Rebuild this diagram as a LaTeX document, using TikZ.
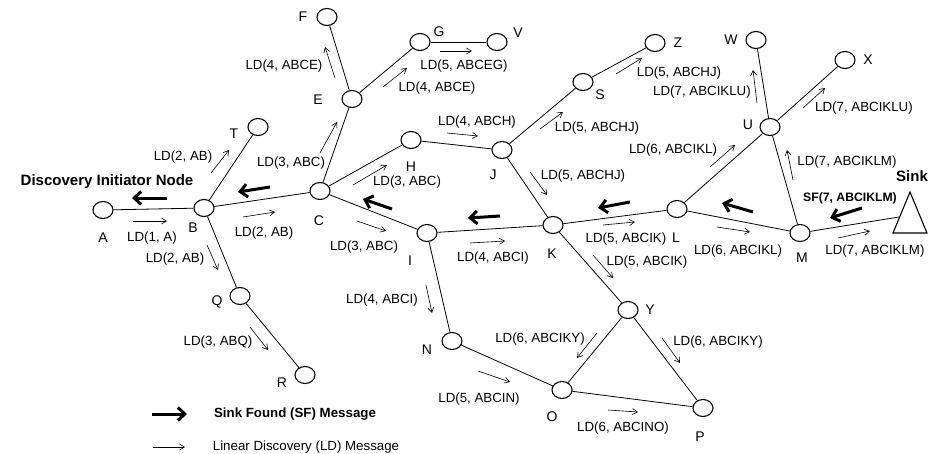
\documentclass[tikz,border=0pt]{standalone}
\usepackage{fontspec}
\setmainfont{Liberation Sans}
\usetikzlibrary{shapes.geometric,arrows.meta}
\tikzset{
  nd/.style={ellipse, draw, line width=1.1pt, minimum width=20pt, minimum height=17pt, inner sep=0pt},
  ed/.style={line width=0.8pt},
  ld/.style={-{Straight Barb[length=5pt,width=6pt]}, line width=0.6pt},
  sf/.style={-{Straight Barb[length=7pt,width=13pt]}, line width=3pt},
  lab/.style={font=\fontsize{13.3}{15}\selectfont, inner sep=0pt},
  lett/.style={font=\fontsize{14}{16}\selectfont, inner sep=0pt},
  bl/.style={font=\fontsize{15}{17}\selectfont\bfseries, inner sep=0pt},
  bls/.style={font=\fontsize{13.3}{15}\selectfont\bfseries, inner sep=0pt},
}
\begin{document}
\begin{tikzpicture}[x=1pt,y=-1pt]
\useasboundingbox (0,0) rectangle (938,453);
% nodes
\node[nd] (A) at (103,210) {};
\node[nd] (B) at (204,208) {};
\node[nd] (C) at (320,191) {};
\node[nd] (T) at (258,127) {};
\node[nd] (E) at (352,99) {};
\node[nd] (F) at (327,17) {};
\node[nd] (G) at (420,42) {};
\node[nd] (V) at (497,42) {};
\node[nd] (H) at (411,140) {};
\node[nd] (J) at (502,150) {};
\node[nd] (S) at (583,82) {};
\node[nd] (Z) at (655,43) {};
\node[nd] (W) at (756,40) {};
\node[nd] (X) at (845,60) {};
\node[nd] (U) at (770,127) {};
\node[nd] (I) at (427,233) {};
\node[nd] (K) at (553,225) {};
\node[nd] (L) at (677,209) {};
\node[nd] (M) at (800,233) {};
\node[nd] (Y) at (628,310) {};
\node[nd] (N) at (452,341) {};
\node[nd] (O) at (562,390) {};
\node[nd] (P) at (703,408) {};
\node[nd] (Q) at (240,296) {};
\node[nd] (R) at (305,375) {};
% sink
\draw[line width=1.1pt] (893,233) -- (910,192) -- (927,233) -- cycle;
\coordinate (sinkL) at (899,217);
% edges
\draw[ed] (A) -- (B);
\draw[ed] (B) -- (T);
\draw[ed] (B) -- (C);
\draw[ed] (B) -- (Q);
\draw[ed] (Q) -- (R);
\draw[ed] (C) -- (E);
\draw[ed] (C) -- (H);
\draw[ed] (C) -- (I);
\draw[ed] (E) -- (F);
\draw[ed] (E) -- (G);
\draw[ed] (G) -- (V);
\draw[ed] (H) -- (J);
\draw[ed] (J) -- (S);
\draw[ed] (S) -- (Z);
\draw[ed] (J) -- (K);
\draw[ed] (I) -- (K);
\draw[ed] (I) -- (N);
\draw[ed] (K) -- (L);
\draw[ed] (K) -- (Y);
\draw[ed] (L) -- (U);
\draw[ed] (L) -- (M);
\draw[ed] (U) -- (W);
\draw[ed] (U) -- (X);
\draw[ed] (U) -- (M);
\draw[ed] (M) -- (sinkL);
\draw[ed] (N) -- (O);
\draw[ed] (O) -- (Y);
\draw[ed] (O) -- (P);
\draw[ed] (Y) -- (P);
% node letters
\node[lett] (tA) at (103,238) {A};
\node[lett] (tB) at (193,228) {B};
\node[lett] (tC) at (319,221) {C};
\node[lett] (tT) at (234,134) {T};
\node[lett] (tE) at (318,100) {E};
\node[lett] (tF) at (303,17) {F};
\node[lett] (tG) at (439,32) {G};
\node[lett] (tV) at (518,33) {V};
\node[lett] (tH) at (411,167) {H};
\node[lett] (tJ) at (493,175) {J};
\node[lett] (tS) at (600,95) {S};
\node[lett] (tZ) at (678,43) {Z};
\node[lett] (tW) at (731,40) {W};
\node[lett] (tX) at (868,60) {X};
\node[lett] (tU) at (748,125) {U};
\node[lett] (tI) at (410,261) {I};
\node[lett] (tK) at (552,254) {K};
\node[lett] (tL) at (676,238) {L};
\node[lett] (tM) at (802,258) {M};
\node[lett] (tY) at (650,310) {Y};
\node[lett] (tN) at (427,350) {N};
\node[lett] (tO) at (552,417) {O};
\node[lett] (tP) at (700,437) {P};
\node[lett] (tQ) at (217,302) {Q};
\node[lett] (tR) at (282,383) {R};
\node[bl] (tSink) at (912,176) {Sink};
\node[bl] (tInit) at (107,182) {Discovery Initiator Node};
% LD labels
\node[lab] (l1) at (152,238) {LD(1, A)};
\node[lab] (l2) at (264,233) {LD(2, AB)};
\node[lab] (l3) at (183,157) {LD(2, AB)};
\node[lab] (l4) at (175,259) {LD(2, AB)};
\node[lab] (l5) at (218,342) {LD(3, ABQ)};
\node[lab] (l6) at (291,163) {LD(3, ABC)};
\node[lab] (l7) at (407,182) {LD(3, ABC)};
\node[lab] (l8) at (364,247) {LD(3, ABC)};
\node[lab] (l9) at (284,66) {LD(4, ABCE)};
\node[lab] (l10) at (437,88) {LD(4, ABCE)};
\node[lab] (l11) at (464,66) {LD(5, ABCEG)};
\node[lab] (l12) at (477,122) {LD(4, ABCH)};
\node[lab] (l13) at (597,128) {LD(5, ABCHJ)};
\node[lab] (l14) at (679,73) {LD(5, ABCHJ)};
\node[lab] (l15) at (583,176) {LD(5, ABCHJ)};
\node[lab] (l16) at (493,258) {LD(4, ABCI)};
\node[lab] (l17) at (382,300) {LD(4, ABCI)};
\node[lab] (l18) at (626,239) {LD(5, ABCIK)};
\node[lab] (l19) at (647,262) {LD(5, ABCIK)};
\node[lab] (l20) at (673,150) {LD(6, ABCIKL)};
\node[lab] (l21) at (738,251) {LD(6, ABCIKL)};
\node[lab] (l22) at (702,92) {LD(7, ABCIKLU)};
\node[lab] (l23) at (864,108) {LD(7, ABCIKLU)};
\node[lab] (l24) at (847,162) {LD(7, ABCIKLM)};
\node[lab] (l25) at (875,251) {LD(7, ABCIKLM)};
\node[bls, font=\fontsize{12.2}{14}\selectfont\bfseries] (l26) at (850,198) {SF(7, ABCIKLM)};
\node[lab] (l27) at (479,399) {LD(5, ABCIN)};
\node[lab] (l28) at (623,428) {LD(6, ABCINO)};
\node[lab] (l29) at (540,339) {LD(6, ABCIKY)};
\node[lab] (l30) at (718,342) {LD(6, ABCIKY)};
% LD arrows
\draw[ld] (133,221) -- (167,221);
\draw[ld] (243,217) -- (275,212);
\draw[ld] (211,173) -- (229,150);
\draw[ld] (207,245) -- (218,270);
\draw[ld] (250,327) -- (268,350);
\draw[ld] (320,153) -- (337,122);
\draw[ld] (353,185) -- (387,165);
\draw[ld] (357,221) -- (386,231);
\draw[ld] (335,78) -- (325,47);
\draw[ld] (383,87) -- (407,68);
\draw[ld] (440,51) -- (472,51);
\draw[ld] (447,133) -- (478,136);
\draw[ld] (540,129) -- (563,112);
\draw[ld] (616,74) -- (642,58);
\draw[ld] (530,172) -- (547,195);
\draw[ld] (470,243) -- (505,241);
\draw[ld] (426,285) -- (432,313);
\draw[ld] (603,225) -- (635,222);
\draw[ld] (593,255) -- (613,278);
\draw[ld] (710,167) -- (735,145);
\draw[ld] (717,227) -- (750,232);
\draw[ld] (757,103) -- (753,70);
\draw[ld] (803,108) -- (825,88);
\draw[ld] (793,180) -- (787,150);
\draw[ld] (838,238) -- (870,231);
\draw[ld] (478,371) -- (510,382);
\draw[ld] (608,410) -- (638,412);
\draw[ld] (597,333) -- (577,358);
\draw[ld] (662,338) -- (680,363);
% SF arrows
\draw[sf] (167,198) -- (132,198);
\draw[sf] (270,187) -- (238,192);
\draw[sf] (392,209) -- (363,199);
\draw[sf] (500,216) -- (468,218);
\draw[sf] (630,202) -- (598,208);
\draw[sf] (753,212) -- (722,203);
\draw[sf] (862,208) -- (830,218);
% legend
\draw[sf] (152,414) -- (187,414);
\node[bls] (lg1) at (295,414) {Sink Found (SF) Message};
\draw[ld] (153,447) -- (185,447);
\node[lab] (lg2) at (306,447) {Linear Discovery (LD) Message};
\end{tikzpicture}
\end{document}
